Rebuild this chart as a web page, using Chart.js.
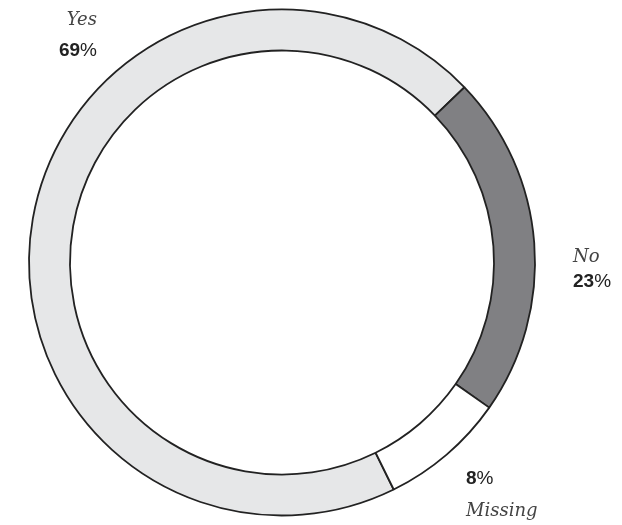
<!DOCTYPE html>
<html>
<head>
<meta charset="utf-8">
<script src="https://cdn.jsdelivr.net/npm/chart.js@4"></script>
<style>
  html, body { margin: 0; padding: 0; background: #fff; }
  #wrap { width: 622px; height: 525px; position: relative; }
</style>
</head>
<body>
<div id="wrap"><canvas id="ringChart"></canvas></div>
<script>
// ================= DATA =================
const categories = ["Yes", "No", "Missing"];
const shares = [70.1, 21.9, 8.0];          // arc sizes as drawn
const printedPct = ["69", "23", "8"];      // percentages printed on the chart
const colors = ["#e6e7e8", "#808083", "#ffffff"];

// ================= LABEL POSITIONS =================
const labelSpots = [
  { x: 97,  nameY: 25,  pctY: 56,  align: "right" },
  { x: 573, nameY: 262, pctY: 287, align: "left" },
  { x: 466, nameY: 516, pctY: 484, align: "left" }
];

// ================= LABEL PLUGIN =================
const ringLabels = {
  id: "ringLabels",
  afterDraw(chart) {
    const ctx = chart.ctx;
    ctx.save();
    ctx.textBaseline = "alphabetic";
    categories.forEach((name, i) => {
      const s = labelSpots[i];
      // name (italic serif)
      ctx.font = "italic 18px 'DejaVu Serif'";
      ctx.fillStyle = "#444";
      ctx.textAlign = s.align;
      ctx.fillText(name, s.x, s.nameY);

      // percentage: bold number + lighter % sign
      ctx.font = "bold 19px 'Liberation Sans'";
      const numW = ctx.measureText(printedPct[i]).width;
      ctx.font = "19px 'Liberation Sans'";
      const pctW = ctx.measureText("%").width;
      const left = s.align === "right" ? s.x - numW - pctW : s.x;
      ctx.textAlign = "left";
      ctx.fillStyle = "#222";
      ctx.font = "bold 19px 'Liberation Sans'";
      ctx.fillText(printedPct[i], left, s.pctY);
      ctx.font = "19px 'Liberation Sans'";
      ctx.fillText("%", left + numW, s.pctY);
    });
    ctx.restore();
  }
};

// ================= DOUGHNUT =================
new Chart(document.getElementById("ringChart"), {
  type: "doughnut",
  data: {
    labels: categories,
    datasets: [{
      data: shares,
      backgroundColor: colors,
      borderColor: "#222",
      borderWidth: 1.8,
      hoverOffset: 0
    }]
  },
  options: {
    responsive: true,
    maintainAspectRatio: false,
    animation: false,
    rotation: 153.8,
    radius: 253,
    cutout: "83.8%",
    layout: { padding: { left: 0, right: 58, top: 0, bottom: 0 } },
    plugins: {
      legend: { display: false },
      tooltip: { enabled: false }
    }
  },
  plugins: [ringLabels]
});
</script>
</body>
</html>
